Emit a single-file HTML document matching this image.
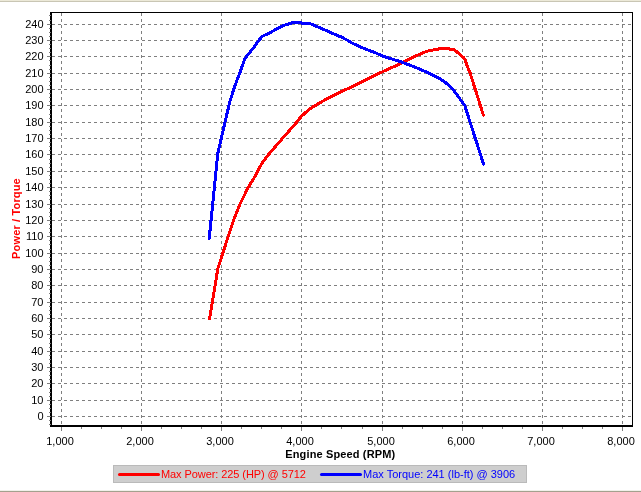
<!DOCTYPE html>
<html><head><meta charset="utf-8"><title>Dyno Chart</title>
<style>
html,body{margin:0;padding:0;background:#fff;}
body{width:641px;height:492px;overflow:hidden;position:relative;font-family:"Liberation Sans",sans-serif;}
svg{position:absolute;left:0;top:0;display:block;}
text{font-family:"Liberation Sans",sans-serif;font-size:11px;}
.b{font-weight:bold;}
</style></head><body>
<svg width="641" height="492" viewBox="0 0 641 492">
<rect x="0" y="0" width="641" height="492" fill="#ffffff"/>
<rect x="0" y="0" width="641" height="1" fill="#ece9d8"/>
<rect x="0" y="1" width="641" height="1" fill="#c9c6b4"/>
<rect x="0" y="491" width="641" height="1" fill="#a4a18e"/>
<rect x="0" y="490" width="641" height="1" fill="#f1f0ea"/>
<g shape-rendering="crispEdges">

<g stroke="#7f7f7f" stroke-width="1" stroke-dasharray="3,3" fill="none">
<line x1="52" y1="416.5" x2="632" y2="416.5"/>
<line x1="52" y1="400.5" x2="632" y2="400.5"/>
<line x1="52" y1="383.5" x2="632" y2="383.5"/>
<line x1="52" y1="367.5" x2="632" y2="367.5"/>
<line x1="52" y1="351.5" x2="632" y2="351.5"/>
<line x1="52" y1="334.5" x2="632" y2="334.5"/>
<line x1="52" y1="318.5" x2="632" y2="318.5"/>
<line x1="52" y1="302.5" x2="632" y2="302.5"/>
<line x1="52" y1="285.5" x2="632" y2="285.5"/>
<line x1="52" y1="269.5" x2="632" y2="269.5"/>
<line x1="52" y1="253.5" x2="632" y2="253.5"/>
<line x1="52" y1="236.5" x2="632" y2="236.5"/>
<line x1="52" y1="220.5" x2="632" y2="220.5"/>
<line x1="52" y1="204.5" x2="632" y2="204.5"/>
<line x1="52" y1="187.5" x2="632" y2="187.5"/>
<line x1="52" y1="171.5" x2="632" y2="171.5"/>
<line x1="52" y1="154.5" x2="632" y2="154.5"/>
<line x1="52" y1="138.5" x2="632" y2="138.5"/>
<line x1="52" y1="122.5" x2="632" y2="122.5"/>
<line x1="52" y1="105.5" x2="632" y2="105.5"/>
<line x1="52" y1="89.5" x2="632" y2="89.5"/>
<line x1="52" y1="73.5" x2="632" y2="73.5"/>
<line x1="52" y1="56.5" x2="632" y2="56.5"/>
<line x1="52" y1="40.5" x2="632" y2="40.5"/>
<line x1="52" y1="24.5" x2="632" y2="24.5"/>
<line x1="61.5" y1="13" x2="61.5" y2="425"/>
<line x1="141.5" y1="13" x2="141.5" y2="425"/>
<line x1="221.5" y1="13" x2="221.5" y2="425"/>
<line x1="301.5" y1="13" x2="301.5" y2="425"/>
<line x1="382.5" y1="13" x2="382.5" y2="425"/>
<line x1="462.5" y1="13" x2="462.5" y2="425"/>
<line x1="542.5" y1="13" x2="542.5" y2="425"/>
<line x1="622.5" y1="13" x2="622.5" y2="425"/>
</g>
<rect x="50" y="12" width="2" height="415" fill="#000"/>
<rect x="50" y="425" width="583" height="2" fill="#000"/>
<rect x="50" y="12" width="583" height="1" fill="#000"/>
<rect x="632" y="12" width="1" height="415" fill="#000"/>
<g stroke="#7f7f7f" stroke-width="1" fill="none">
<line x1="47" y1="416.5" x2="51" y2="416.5"/>
<line x1="49" y1="412.5" x2="51" y2="412.5"/>
<line x1="49" y1="408.5" x2="51" y2="408.5"/>
<line x1="49" y1="404.5" x2="51" y2="404.5"/>
<line x1="47" y1="400.5" x2="51" y2="400.5"/>
<line x1="49" y1="396.5" x2="51" y2="396.5"/>
<line x1="49" y1="392.5" x2="51" y2="392.5"/>
<line x1="49" y1="388.5" x2="51" y2="388.5"/>
<line x1="47" y1="383.5" x2="51" y2="383.5"/>
<line x1="49" y1="379.5" x2="51" y2="379.5"/>
<line x1="49" y1="375.5" x2="51" y2="375.5"/>
<line x1="49" y1="371.5" x2="51" y2="371.5"/>
<line x1="47" y1="367.5" x2="51" y2="367.5"/>
<line x1="49" y1="363.5" x2="51" y2="363.5"/>
<line x1="49" y1="359.5" x2="51" y2="359.5"/>
<line x1="49" y1="355.5" x2="51" y2="355.5"/>
<line x1="47" y1="351.5" x2="51" y2="351.5"/>
<line x1="49" y1="347.5" x2="51" y2="347.5"/>
<line x1="49" y1="343.5" x2="51" y2="343.5"/>
<line x1="49" y1="338.5" x2="51" y2="338.5"/>
<line x1="47" y1="334.5" x2="51" y2="334.5"/>
<line x1="49" y1="330.5" x2="51" y2="330.5"/>
<line x1="49" y1="326.5" x2="51" y2="326.5"/>
<line x1="49" y1="322.5" x2="51" y2="322.5"/>
<line x1="47" y1="318.5" x2="51" y2="318.5"/>
<line x1="49" y1="314.5" x2="51" y2="314.5"/>
<line x1="49" y1="310.5" x2="51" y2="310.5"/>
<line x1="49" y1="306.5" x2="51" y2="306.5"/>
<line x1="47" y1="302.5" x2="51" y2="302.5"/>
<line x1="49" y1="298.5" x2="51" y2="298.5"/>
<line x1="49" y1="293.5" x2="51" y2="293.5"/>
<line x1="49" y1="289.5" x2="51" y2="289.5"/>
<line x1="47" y1="285.5" x2="51" y2="285.5"/>
<line x1="49" y1="281.5" x2="51" y2="281.5"/>
<line x1="49" y1="277.5" x2="51" y2="277.5"/>
<line x1="49" y1="273.5" x2="51" y2="273.5"/>
<line x1="47" y1="269.5" x2="51" y2="269.5"/>
<line x1="49" y1="265.5" x2="51" y2="265.5"/>
<line x1="49" y1="261.5" x2="51" y2="261.5"/>
<line x1="49" y1="257.5" x2="51" y2="257.5"/>
<line x1="47" y1="253.5" x2="51" y2="253.5"/>
<line x1="49" y1="249.5" x2="51" y2="249.5"/>
<line x1="49" y1="244.5" x2="51" y2="244.5"/>
<line x1="49" y1="240.5" x2="51" y2="240.5"/>
<line x1="47" y1="236.5" x2="51" y2="236.5"/>
<line x1="49" y1="232.5" x2="51" y2="232.5"/>
<line x1="49" y1="228.5" x2="51" y2="228.5"/>
<line x1="49" y1="224.5" x2="51" y2="224.5"/>
<line x1="47" y1="220.5" x2="51" y2="220.5"/>
<line x1="49" y1="216.5" x2="51" y2="216.5"/>
<line x1="49" y1="212.5" x2="51" y2="212.5"/>
<line x1="49" y1="208.5" x2="51" y2="208.5"/>
<line x1="47" y1="204.5" x2="51" y2="204.5"/>
<line x1="49" y1="199.5" x2="51" y2="199.5"/>
<line x1="49" y1="195.5" x2="51" y2="195.5"/>
<line x1="49" y1="191.5" x2="51" y2="191.5"/>
<line x1="47" y1="187.5" x2="51" y2="187.5"/>
<line x1="49" y1="183.5" x2="51" y2="183.5"/>
<line x1="49" y1="179.5" x2="51" y2="179.5"/>
<line x1="49" y1="175.5" x2="51" y2="175.5"/>
<line x1="47" y1="171.5" x2="51" y2="171.5"/>
<line x1="49" y1="167.5" x2="51" y2="167.5"/>
<line x1="49" y1="163.5" x2="51" y2="163.5"/>
<line x1="49" y1="159.5" x2="51" y2="159.5"/>
<line x1="47" y1="154.5" x2="51" y2="154.5"/>
<line x1="49" y1="150.5" x2="51" y2="150.5"/>
<line x1="49" y1="146.5" x2="51" y2="146.5"/>
<line x1="49" y1="142.5" x2="51" y2="142.5"/>
<line x1="47" y1="138.5" x2="51" y2="138.5"/>
<line x1="49" y1="134.5" x2="51" y2="134.5"/>
<line x1="49" y1="130.5" x2="51" y2="130.5"/>
<line x1="49" y1="126.5" x2="51" y2="126.5"/>
<line x1="47" y1="122.5" x2="51" y2="122.5"/>
<line x1="49" y1="118.5" x2="51" y2="118.5"/>
<line x1="49" y1="114.5" x2="51" y2="114.5"/>
<line x1="49" y1="109.5" x2="51" y2="109.5"/>
<line x1="47" y1="105.5" x2="51" y2="105.5"/>
<line x1="49" y1="101.5" x2="51" y2="101.5"/>
<line x1="49" y1="97.5" x2="51" y2="97.5"/>
<line x1="49" y1="93.5" x2="51" y2="93.5"/>
<line x1="47" y1="89.5" x2="51" y2="89.5"/>
<line x1="49" y1="85.5" x2="51" y2="85.5"/>
<line x1="49" y1="81.5" x2="51" y2="81.5"/>
<line x1="49" y1="77.5" x2="51" y2="77.5"/>
<line x1="47" y1="73.5" x2="51" y2="73.5"/>
<line x1="49" y1="69.5" x2="51" y2="69.5"/>
<line x1="49" y1="65.5" x2="51" y2="65.5"/>
<line x1="49" y1="60.5" x2="51" y2="60.5"/>
<line x1="47" y1="56.5" x2="51" y2="56.5"/>
<line x1="49" y1="52.5" x2="51" y2="52.5"/>
<line x1="49" y1="48.5" x2="51" y2="48.5"/>
<line x1="49" y1="44.5" x2="51" y2="44.5"/>
<line x1="47" y1="40.5" x2="51" y2="40.5"/>
<line x1="49" y1="36.5" x2="51" y2="36.5"/>
<line x1="49" y1="32.5" x2="51" y2="32.5"/>
<line x1="49" y1="28.5" x2="51" y2="28.5"/>
<line x1="47" y1="24.5" x2="51" y2="24.5"/>
<line x1="49" y1="20.5" x2="51" y2="20.5"/>
<line x1="49" y1="15.5" x2="51" y2="15.5"/>
<line x1="49" y1="420.5" x2="51" y2="420.5"/>
<line x1="49" y1="424.5" x2="51" y2="424.5"/>
<line x1="61.5" y1="427" x2="61.5" y2="431"/>
<line x1="81.5" y1="427" x2="81.5" y2="429"/>
<line x1="101.5" y1="427" x2="101.5" y2="429"/>
<line x1="121.5" y1="427" x2="121.5" y2="429"/>
<line x1="141.5" y1="427" x2="141.5" y2="431"/>
<line x1="161.5" y1="427" x2="161.5" y2="429"/>
<line x1="181.5" y1="427" x2="181.5" y2="429"/>
<line x1="201.5" y1="427" x2="201.5" y2="429"/>
<line x1="221.5" y1="427" x2="221.5" y2="431"/>
<line x1="241.5" y1="427" x2="241.5" y2="429"/>
<line x1="261.5" y1="427" x2="261.5" y2="429"/>
<line x1="281.5" y1="427" x2="281.5" y2="429"/>
<line x1="301.5" y1="427" x2="301.5" y2="431"/>
<line x1="321.5" y1="427" x2="321.5" y2="429"/>
<line x1="341.5" y1="427" x2="341.5" y2="429"/>
<line x1="362.5" y1="427" x2="362.5" y2="429"/>
<line x1="382.5" y1="427" x2="382.5" y2="431"/>
<line x1="402.5" y1="427" x2="402.5" y2="429"/>
<line x1="422.5" y1="427" x2="422.5" y2="429"/>
<line x1="442.5" y1="427" x2="442.5" y2="429"/>
<line x1="462.5" y1="427" x2="462.5" y2="431"/>
<line x1="482.5" y1="427" x2="482.5" y2="429"/>
<line x1="502.5" y1="427" x2="502.5" y2="429"/>
<line x1="522.5" y1="427" x2="522.5" y2="429"/>
<line x1="542.5" y1="427" x2="542.5" y2="431"/>
<line x1="562.5" y1="427" x2="562.5" y2="429"/>
<line x1="582.5" y1="427" x2="582.5" y2="429"/>
<line x1="602.5" y1="427" x2="602.5" y2="429"/>
<line x1="622.5" y1="427" x2="622.5" y2="431"/>
</g>
</g>
<polyline points="209.6,318.8 217.8,268.8 229.8,231.5 233.5,220.5 239.6,205.0 242.0,200.0 248.1,187.6 254.3,177.5 257.6,171.5 261.7,163.6 268.7,154.4 273.3,149.0 282.2,138.7 288.2,132.0 296.4,122.5 301.4,116.3 309.2,109.3 318.1,103.8 328.0,98.2 335.0,94.7 345.0,89.9 355.0,85.4 365.0,80.3 382.5,71.7 392.4,67.2 400.0,64.0 403.7,61.9 415.0,56.2 425.0,52.0 430.0,50.5 435.5,49.5 442.0,48.4 448.0,48.8 454.3,49.7 458.7,53.4 463.7,57.7 465.2,59.5 466.6,64.4 470.3,73.5 483.4,115.2" fill="none" stroke="#ff0000" stroke-width="3" stroke-linejoin="round" stroke-linecap="round" shape-rendering="crispEdges"/>
<polyline points="209.2,238.5 217.8,153.5 229.6,102.5 233.5,90.0 236.5,81.5 240.5,71.0 244.6,59.2 246.4,56.5 252.8,48.7 258.8,40.4 262.4,36.2 268.7,33.4 276.2,29.2 282.5,25.9 288.7,23.9 293.0,22.6 297.0,22.4 300.5,22.6 302.0,23.3 310.3,23.7 325.0,30.0 335.0,34.5 341.2,37.0 347.5,40.2 351.2,42.7 360.0,46.7 367.5,49.9 375.0,52.6 382.5,56.0 392.4,59.2 400.0,61.5 415.0,67.1 425.0,71.4 435.0,76.1 440.0,78.6 445.0,82.2 449.4,85.8 453.2,89.5 457.5,95.6 461.2,100.6 464.8,105.6 466.2,110.0 483.6,164.2" fill="none" stroke="#0000ff" stroke-width="3" stroke-linejoin="round" stroke-linecap="round" shape-rendering="crispEdges"/>
<g fill="#000" text-anchor="end">
<text x="43.5" y="419.5">0</text>
<text x="43.5" y="403.5">10</text>
<text x="43.5" y="386.5">20</text>
<text x="43.5" y="370.5">30</text>
<text x="43.5" y="354.5">40</text>
<text x="43.5" y="337.5">50</text>
<text x="43.5" y="321.5">60</text>
<text x="43.5" y="305.5">70</text>
<text x="43.5" y="288.5">80</text>
<text x="43.5" y="272.5">90</text>
<text x="43.5" y="256.5">100</text>
<text x="43.5" y="239.5">110</text>
<text x="43.5" y="223.5">120</text>
<text x="43.5" y="207.5">130</text>
<text x="43.5" y="190.5">140</text>
<text x="43.5" y="174.5">150</text>
<text x="43.5" y="157.5">160</text>
<text x="43.5" y="141.5">170</text>
<text x="43.5" y="125.5">180</text>
<text x="43.5" y="108.5">190</text>
<text x="43.5" y="92.5">200</text>
<text x="43.5" y="76.5">210</text>
<text x="43.5" y="59.5">220</text>
<text x="43.5" y="43.5">230</text>
<text x="43.5" y="27.5">240</text>
</g>
<g fill="#000" text-anchor="middle">
<text x="60.0" y="444.5">1,000</text>
<text x="140.0" y="444.5">2,000</text>
<text x="220.0" y="444.5">3,000</text>
<text x="300.0" y="444.5">4,000</text>
<text x="381.0" y="444.5">5,000</text>
<text x="461.0" y="444.5">6,000</text>
<text x="541.0" y="444.5">7,000</text>
<text x="621.0" y="444.5">8,000</text>
</g>
<text class="b" x="340.3" y="458" text-anchor="middle" fill="#000" letter-spacing="0.14">Engine Speed (RPM)</text>
<text class="b" transform="translate(20.3,218.5) rotate(-90)" text-anchor="middle" fill="#ff0000" letter-spacing="0.15">Power / Torque</text>
<rect x="113.5" y="465.5" width="413" height="17" fill="#cecece" stroke="#bababa" stroke-width="1" shape-rendering="crispEdges"/>
<line x1="119.5" y1="474.5" x2="158.5" y2="474.5" stroke="#ff0000" stroke-width="3" stroke-linecap="round"/>
<text x="161" y="478" fill="#ff0000" letter-spacing="-0.08">Max Power: 225 (HP) @ 5712</text>
<line x1="321.5" y1="474.5" x2="360.5" y2="474.5" stroke="#0000ff" stroke-width="3" stroke-linecap="round"/>
<text x="363" y="478" fill="#0000ff">Max Torque: 241 (lb-ft) @ 3906</text>
</svg></body></html>
